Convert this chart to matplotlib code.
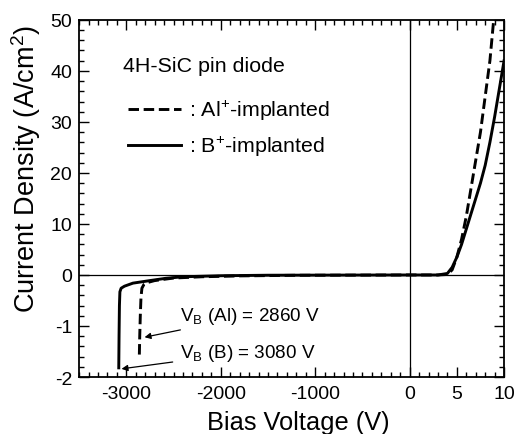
import numpy as np
import matplotlib
matplotlib.use('Agg')
import matplotlib.pyplot as plt
from matplotlib.ticker import FixedLocator

plt.rcParams['font.family'] = ['Liberation Sans', 'DejaVu Sans']
plt.rcParams['mathtext.fontset'] = 'custom'
plt.rcParams['mathtext.rm'] = 'Liberation Sans'
plt.rcParams['mathtext.it'] = 'Liberation Sans:italic'

# reverse + forward I-V data (bias in V, current density in A/cm^2)
al_v = [-2862, -2858, -2852, -2845, -2835, -2815, -2780, -2700, -2500, -2200,
        -1800, -1200, 0, 3.0, 4.0, 4.5, 5.0, 5.5, 6.0, 6.5, 7.0, 7.5, 8.0, 8.5, 8.9]
al_j = [-1.56, -1.2, -0.8, -0.45, -0.26, -0.19, -0.15, -0.11, -0.06, -0.035,
        -0.018, -0.006, 0, 0, 0.1, 1.0, 3.5, 7.0, 11.5, 17.0, 22.5, 28.0, 35.0, 42.0, 50.0]

b_v = [-3080, -3077, -3073, -3068, -3055, -3020, -2930, -2750, -2580, -2400,
       -2000, -1500, 0, 3.0, 4.0, 4.5, 5.0, 5.5, 6.0, 6.5, 7.0, 7.5, 8.0, 8.5, 9.0, 9.5, 10.0]
b_j = [-1.82, -1.2, -0.6, -0.33, -0.26, -0.22, -0.16, -0.11, -0.065, -0.035,
       -0.015, -0.005, 0, 0, 0.3, 1.5, 3.5, 6.0, 9.0, 12.0, 15.0, 18.0, 21.5, 26.0, 31.0, 36.5, 42.0]

x_major = [-3000, -2000, -1000, 0, 5, 10]
y_major = [-2, -1, 0, 10, 20, 30, 40, 50]


# broken scales: x compressed 100x below 0, y stretched 10x below 0
def fwd_x(x):
    x = np.asarray(x, dtype=float)
    return np.where(x < 0, x / 100.0, x)


def inv_x(u):
    u = np.asarray(u, dtype=float)
    return np.where(u < 0, u * 100.0, u)


def fwd_y(y):
    y = np.asarray(y, dtype=float)
    return np.where(y < 0, y * 10.0, y)


def inv_y(u):
    u = np.asarray(u, dtype=float)
    return np.where(u < 0, u / 10.0, u)


fig = plt.figure(figsize=(5.17, 4.35), dpi=100)
ax = fig.add_axes([0.153, 0.131, 0.822, 0.821])
ax.set_xscale('function', functions=(fwd_x, inv_x))
ax.set_yscale('function', functions=(fwd_y, inv_y))

ax.axhline(0, color='black', lw=0.9, zorder=1)
ax.axvline(0, color='black', lw=0.9, zorder=1)

ax.plot(al_v, al_j, color='black', lw=2.1, ls=(0, (3.6, 1.6)),
        label=': Al$^{+}$-implanted', zorder=3)
ax.plot(b_v, b_j, color='black', lw=2.1, label=': B$^{+}$-implanted', zorder=3)

ax.set_xlim(-3500, 10)
ax.set_ylim(-2, 50)

ax.xaxis.set_major_locator(FixedLocator(x_major))
ax.xaxis.set_minor_locator(FixedLocator(list(range(-3500, 0, 100)) + list(range(1, 10))))
ax.yaxis.set_major_locator(FixedLocator(y_major))
ax.yaxis.set_minor_locator(FixedLocator([-1.8 + 0.2 * i for i in range(9)] + list(range(2, 50, 2))))
ax.set_xticklabels([str(v) for v in x_major])
ax.set_yticklabels([str(v) for v in y_major])

ax.tick_params(which='both', direction='in', top=True, right=True, width=1.0)
ax.tick_params(which='major', length=7, labelsize=14)
ax.tick_params(which='minor', length=3.6)
ax.tick_params(axis='x', which='major', pad=6)
ax.tick_params(axis='y', which='major', pad=5)
for s in ax.spines.values():
    s.set_linewidth(1.3)

ax.set_xlabel('Bias Voltage (V)', fontsize=18.3)
ax.set_ylabel('Current Density (A/cm$^{2}$)', fontsize=19.5)
ax.xaxis.set_label_coords(0.516, -0.092)
ax.yaxis.set_label_coords(-0.085, 0.585)

ax.text(0.1035, 0.872, '4H-SiC pin diode', transform=ax.transAxes,
        fontsize=15.4, ha='left', va='center')
ax.legend(loc='center left', bbox_to_anchor=(0.115, 0.697), frameon=False,
          fontsize=15.4, handlelength=2.5, handletextpad=0.37,
          borderaxespad=0, borderpad=0, labelspacing=0.55)

ax.annotate('V$_{\\mathrm{B}}$ (Al) = 2860 V', xy=(-2807, -1.22), xytext=(-2436, -0.80),
            fontsize=13.6, ha='left', va='center',
            arrowprops=dict(arrowstyle='-|>', color='black', lw=0.9,
                            mutation_scale=9, shrinkA=3, shrinkB=0))
ax.annotate('V$_{\\mathrm{B}}$ (B) = 3080 V', xy=(-3051, -1.84), xytext=(-2436, -1.51),
            fontsize=13.6, ha='left', va='center',
            arrowprops=dict(arrowstyle='-|>', color='black', lw=0.9,
                            mutation_scale=9, shrinkA=3, shrinkB=0))

fig.savefig('out.png', dpi=100)
